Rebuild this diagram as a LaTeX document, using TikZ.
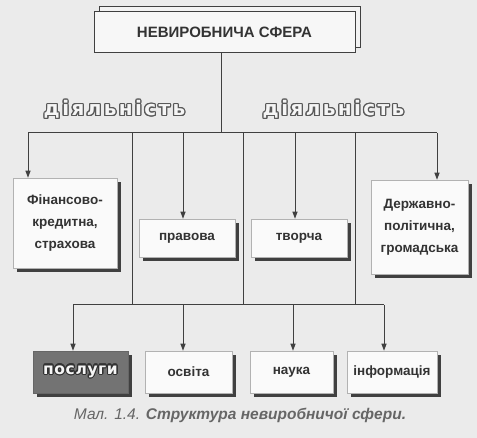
\documentclass[tikz,border=0pt]{standalone}
\usepackage{fontspec}
\setmainfont{Liberation Sans}
\newfontfamily\deja{DejaVu Sans}
\usepackage{contour}
\contourlength{1.2pt}
\usetikzlibrary{arrows.meta,shadows}
\begin{document}
\begin{tikzpicture}[x=1pt,y=-1pt,
  line/.style={draw=black!75, line width=1pt},
  arr/.style={line, -{Triangle[length=7pt,width=5pt]}},
  box/.style={draw=black!30, line width=0.5pt, fill=gray!4, text=black!80,
    font=\bfseries\fontsize{13.5}{22}\selectfont, align=center, inner sep=0pt,
    general shadow={fill=black!75, shadow xshift=4pt, shadow yshift=-4pt}},
  topbox/.style={draw=black!75, line width=1pt, fill=gray!6, text=black!80,
    font=\bfseries\fontsize{15}{18}\selectfont, inner sep=0pt,
    general shadow={draw=black!75, line width=1pt, fill=gray!10, shadow xshift=5pt, shadow yshift=5pt}},
  outl/.style={font=\deja\bfseries\fontsize{20}{20}\selectfont, inner sep=0pt},
]
\useasboundingbox (0,0) rectangle (477,438);
\fill[gray!16] (0,0) rectangle (477,438);

% top
\node[topbox, minimum width=261pt, minimum height=41pt] (top) at (224.5,32.5) {НЕВИРОБНИЧА СФЕРА};

% labels
\node[outl] (lab1) at (114.5,110) {\addfontfeatures{LetterSpace=12}\color{gray!8}\contour{black!65}{діяльність}};
\node[outl] (lab2) at (333.5,110) {\addfontfeatures{LetterSpace=12}\color{gray!8}\contour{black!65}{діяльність}};

% middle boxes
\node[box, minimum width=104pt, minimum height=90pt] (fin) at (65,223) {Фінансово-\\кредитна,\\страхова};
\node[box, minimum width=96pt, minimum height=38pt] (prav) at (187,238) {правова};
\node[box, minimum width=96pt, minimum height=38pt] (tvor) at (299,238) {творча};
\node[box, minimum width=97pt, minimum height=94pt] (derzh) at (419.5,227) {Державно-\\політична,\\громадська};

% bottom boxes
\node[box, minimum width=95pt, minimum height=42pt, fill=black!55, draw=black!60] (posl) at (80.5,372)
  {\deja\bfseries\fontsize{15.5}{18}\selectfont\addfontfeatures{LetterSpace=4}\color{gray!8}\contour{black!80}{послуги}};
\node[box, minimum width=87pt, minimum height=42pt] (osv) at (188.5,372) {освіта};
\node[box, minimum width=83pt, minimum height=42pt] (nauka) at (291.5,372) {наука};
\node[box, minimum width=90pt, minimum height=42pt] (inf) at (392,372) {інформація};

% top bus
\coordinate (j0) at (221,133);
\coordinate (a1) at (28,133);
\coordinate (a2) at (132,133);
\coordinate (a3) at (183,133);
\coordinate (a4) at (243,133);
\coordinate (a5) at (295,133);
\coordinate (a6) at (355,133);
\coordinate (a7) at (437,133);
% bottom bus
\coordinate (b1) at (73,305);
\coordinate (b2) at (183,305);
\coordinate (b3) at (293,305);
\coordinate (b4) at (384,305);

\draw[line] (j0 |- top.south) -- (j0);
\draw[line] (a1) -- (a7);
\draw[arr] (a1) -- (a1 |- fin.north);
\draw[arr] (a3) -- (a3 |- prav.north);
\draw[arr] (a5) -- (a5 |- tvor.north);
\draw[arr] (a7) -- (a7 |- derzh.north);
\draw[line] (a2) -- (a2 |- b1);
\draw[line] (a4) -- (a4 |- b1);
\draw[line] (a6) -- (a6 |- b1);
\draw[line] (b1) -- (b4);
\draw[arr] (b1) -- (b1 |- posl.north);
\draw[arr] (b2) -- (b2 |- osv.north);
\draw[arr] (b3) -- (b3 |- nauka.north);
\draw[arr] (b4) -- (b4 |- inf.north);

% caption
\node[text=black!60, font=\itshape\fontsize{15.5}{17}\selectfont, inner sep=0pt] (cap) at (240,415)
  {Мал. 1.4. \textbf{Структура невиробничої сфери.}};
\end{tikzpicture}
\end{document}
